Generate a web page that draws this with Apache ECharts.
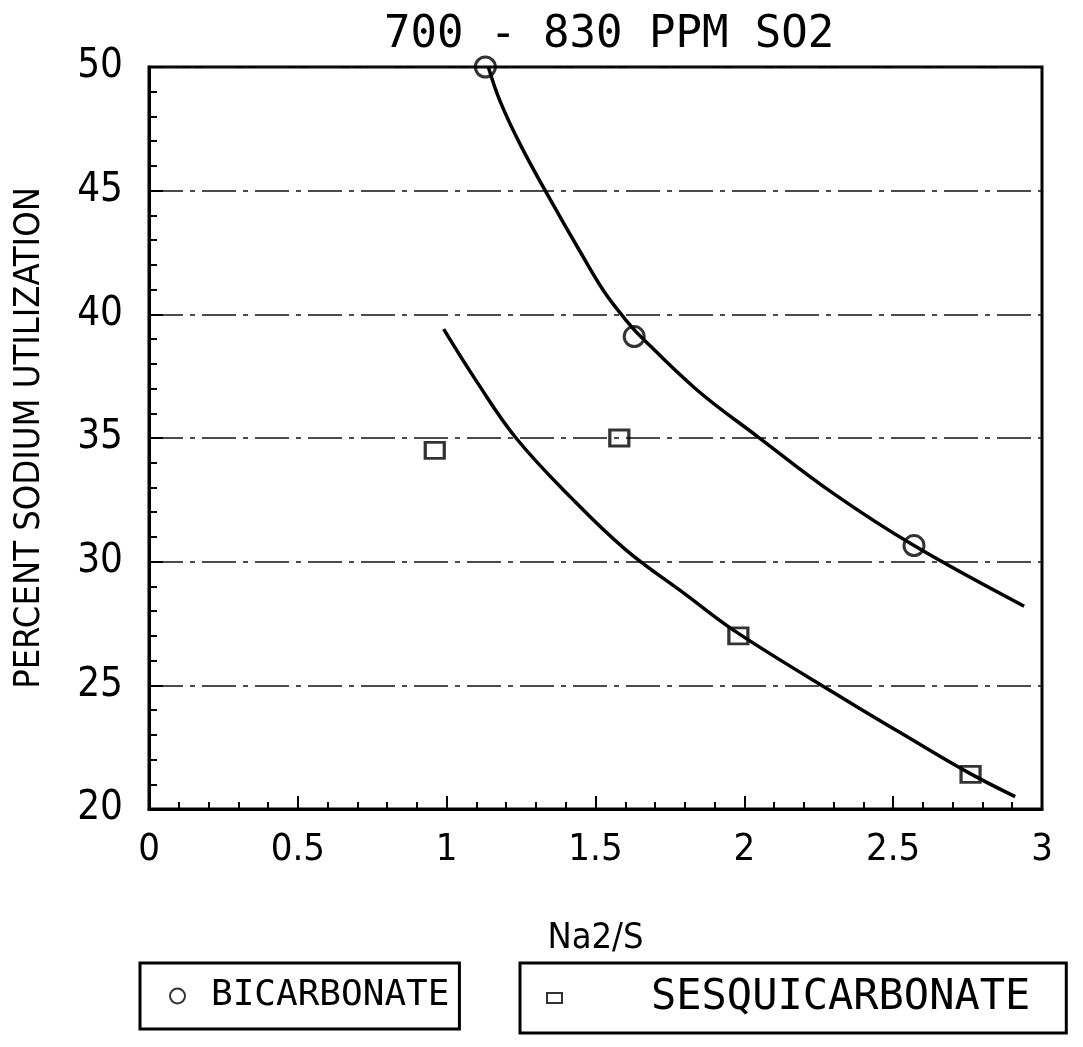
<!DOCTYPE html>
<html>
<head>
<meta charset="utf-8">
<script src="https://cdn.jsdelivr.net/npm/echarts@6/dist/echarts.min.js"></script>
<style>html,body{margin:0;padding:0;background:#fff;}#c{width:1083px;height:1047px;}</style>
</head>
<body>
<div id="c"></div>
<script>
// ---- data ----
const titleText = '700 - 830 PPM SO2';
const xName = 'Na2/S';
const yName = 'PERCENT SODIUM UTILIZATION';
const seriesNames = ['BICARBONATE', 'SESQUICARBONATE'];
const bicarbPoints = [[1.13, 50.0], [1.63, 39.1], [2.57, 30.65]];
const sesquiPoints = [[0.96, 34.5], [1.58, 35.0], [1.98, 27.0], [2.76, 21.4]];
const bicarbCurve = [[1.14, 50.0], [1.18, 48.6], [1.25, 46.8], [1.35, 44.6], [1.45, 42.5], [1.53, 40.9], [1.6, 39.8], [1.64, 39.25], [1.84, 36.95], [2.04, 35.1], [2.3, 32.75], [2.57, 30.65], [2.94, 28.2]];
const sesquiCurve = [[0.99, 39.4], [1.1, 37.3], [1.233, 35.0], [1.417, 32.6], [1.6, 30.5], [1.8, 28.7], [1.98, 27.1], [2.342, 24.4], [2.55, 22.9], [2.756, 21.45], [2.91, 20.5]];
const xTickLabels = ['0', '0.5', '1', '1.5', '2', '2.5', '3'];

const narrow = "'DejaVu Sans Condensed', 'Roboto', sans-serif";
const mono = "'DejaVu Sans Mono', monospace";

const chart = echarts.init(document.getElementById('c'));
chart.setOption({
  backgroundColor: '#fff',
  animation: false,
  title: {
    text: titleText,
    left: 379, top: 9,
    textStyle: { fontFamily: mono, fontSize: 44, fontWeight: 'normal', color: '#000' }
  },
  grid: { left: 149, right: 41, top: 67, bottom: 238, show: true, borderColor: '#000', borderWidth: 3 },
  xAxis: {
    type: 'value', min: 0, max: 3, interval: 0.5,
    name: xName, nameLocation: 'middle', nameGap: 112,
    nameTextStyle: { fontFamily: narrow, fontSize: 36, color: '#000' },
    axisLine: { show: true, lineStyle: { color: '#000', width: 3 } },
    axisTick: { show: true, inside: true, length: 13, lineStyle: { color: '#000', width: 2 } },
    minorTick: { show: true, splitNumber: 5, length: 7, lineStyle: { color: '#000', width: 2 } },
    axisLabel: { margin: 22, fontFamily: narrow, fontSize: 38, color: '#000',
      formatter: function (v) { return xTickLabels[Math.round(v * 2)]; } },
    splitLine: { show: false }
  },
  yAxis: {
    type: 'value', min: 20, max: 50, interval: 5,
    name: yName, nameLocation: 'middle', nameGap: 101, nameRotate: 90,
    nameTextStyle: { fontFamily: narrow, fontSize: 36, color: '#000' },
    axisLine: { show: true, lineStyle: { color: '#000', width: 3 } },
    axisTick: { show: true, inside: true, length: 14, lineStyle: { color: '#000', width: 2 } },
    minorTick: { show: true, splitNumber: 5, length: 8, lineStyle: { color: '#000', width: 2 } },
    axisLabel: { margin: 26, fontFamily: narrow, fontSize: 40, color: '#000' },
    splitLine: { show: true, lineStyle: { color: '#111', width: 1.5, type: [34, 7, 5, 7] } }
  },
  legend: [
    {
      data: [seriesNames[0]], left: 140, top: 963,
      borderColor: '#000', borderWidth: 3, borderRadius: 0,
      padding: [15, 10, 15, 29], itemWidth: 15, itemHeight: 15, itemGap: 0,
      textStyle: { fontFamily: mono, fontSize: 36, color: '#000', padding: [0, 0, 0, 21] },
      selectedMode: false
    },
    {
      data: [seriesNames[1]], left: 520, top: 963,
      borderColor: '#000', borderWidth: 3, borderRadius: 0,
      padding: [14, 36, 14, 26], itemWidth: 15, itemHeight: 10, itemGap: 0,
      textStyle: { fontFamily: mono, fontSize: 42, color: '#000', padding: [0, 0, 0, 84] },
      selectedMode: false
    }
  ],
  series: [
    {
      name: 'bicarbFit', type: 'line', data: bicarbCurve, smooth: 0.4, showSymbol: false,
      lineStyle: { color: '#000', width: 3.5 }, silent: true, z: 2
    },
    {
      name: 'sesquiFit', type: 'line', data: sesquiCurve, smooth: 0.4, showSymbol: false,
      lineStyle: { color: '#000', width: 3.5 }, silent: true, z: 2
    },
    {
      name: seriesNames[0], type: 'scatter', data: bicarbPoints, symbol: 'circle', symbolSize: 20,
      itemStyle: { color: 'rgba(255,255,255,0)', borderColor: '#000', borderWidth: 3 }, z: 3
    },
    {
      name: seriesNames[1], type: 'scatter', data: sesquiPoints, symbol: 'rect', symbolSize: [19, 16],
      itemStyle: { color: 'rgba(255,255,255,0)', borderColor: '#000', borderWidth: 3 }, z: 3
    }
  ]
});
</script>
</body>
</html>
